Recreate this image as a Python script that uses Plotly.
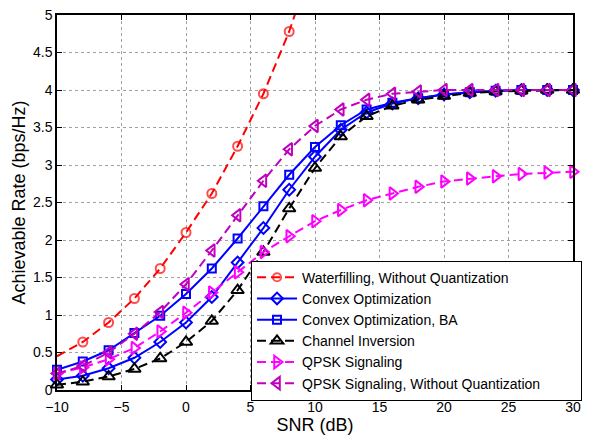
import plotly.graph_objects as go

snr = [-10, -8, -6, -4, -2, 0, 2, 4, 6, 8, 10, 12, 14, 16, 18, 20, 22, 24, 26, 28, 30]

waterfill_snr = [-10, -8, -6, -4, -2, 0, 2, 4, 6, 8, 10]
waterfill = [0.45, 0.64, 0.90, 1.22, 1.62, 2.10, 2.62, 3.25, 3.95, 4.78, 5.8]

convex = [0.14, 0.19, 0.29, 0.43, 0.64, 0.90, 1.24, 1.70, 2.16, 2.67, 3.11, 3.47, 3.70,
          3.82, 3.89, 3.94, 3.97, 3.99, 4.0, 4.0, 4.0]
convex_ba = [0.27, 0.38, 0.53, 0.76, 0.99, 1.28, 1.62, 2.02, 2.45, 2.87, 3.24, 3.53, 3.74,
             3.83, 3.89, 3.94, 3.97, 3.99, 4.0, 4.0, 4.0]
chan_inv = [0.07, 0.11, 0.18, 0.28, 0.42, 0.64, 0.92, 1.33, 1.84, 2.42, 2.96, 3.38, 3.65,
            3.79, 3.87, 3.92, 3.96, 3.98, 3.99, 4.0, 4.0]
qpsk = [0.22, 0.30, 0.41, 0.56, 0.78, 1.03, 1.30, 1.57, 1.84, 2.05, 2.25, 2.40, 2.53,
        2.62, 2.71, 2.78, 2.82, 2.85, 2.88, 2.90, 2.91]
qpsk_noq = [0.22, 0.32, 0.50, 0.75, 1.04, 1.41, 1.86, 2.33, 2.79, 3.21, 3.52, 3.74, 3.87,
            3.95, 3.98, 4.0, 4.0, 4.0, 4.0, 4.0, 4.0]

x_ticks = [-10, -5, 0, 5, 10, 15, 20, 25, 30]
y_ticks = [0, 0.5, 1, 1.5, 2, 2.5, 3, 3.5, 4, 4.5, 5]

FONT = "Liberation Sans, Arial, sans-serif"
DASH = "9px,5px"
PAD = "\u00a0" * 9  # right padding inside the legend box

fig = go.Figure()

wf_sizes = [0 if (i == 0) else 9 for i in range(len(waterfill_snr))]
fig.add_trace(go.Scatter(
    x=waterfill_snr, y=waterfill, name="Waterfilling, Without Quantization",
    mode="lines+markers", cliponaxis=True,
    line=dict(color="#ff0000", width=2, dash=DASH),
    marker=dict(symbol="circle-open", size=wf_sizes, color="#ff0000", line=dict(width=2)),
))
fig.add_trace(go.Scatter(
    x=snr, y=convex, name="Convex Optimization", mode="lines+markers", cliponaxis=False,
    line=dict(color="#0000ff", width=2),
    marker=dict(symbol="diamond-open", size=9, color="#0000ff", line=dict(width=2)),
))
fig.add_trace(go.Scatter(
    x=snr, y=convex_ba, name="Convex Optimization, BA", mode="lines+markers", cliponaxis=False,
    line=dict(color="#0000ff", width=2),
    marker=dict(symbol="square-open", size=8, color="#0000ff", line=dict(width=2)),
))
fig.add_trace(go.Scatter(
    x=snr, y=chan_inv, name="Channel Inversion", mode="lines+markers", cliponaxis=False,
    line=dict(color="#000000", width=2, dash=DASH),
    marker=dict(symbol="triangle-up-open", size=11, color="#000000", line=dict(width=2)),
))
fig.add_trace(go.Scatter(
    x=snr, y=qpsk, name="QPSK Signaling", mode="lines+markers", cliponaxis=False,
    line=dict(color="#ff00ff", width=2, dash=DASH),
    marker=dict(symbol="triangle-right-open", size=11, color="#ff00ff", line=dict(width=2)),
))
fig.add_trace(go.Scatter(
    x=snr, y=qpsk_noq, name="QPSK Signaling, Without Quantization" + PAD, mode="lines+markers",
    cliponaxis=False,
    line=dict(color="#bf00bf", width=2, dash=DASH),
    marker=dict(symbol="triangle-left-open", size=11, color="#bf00bf", line=dict(width=2)),
))

axis_common = dict(
    showline=True, linecolor="black", linewidth=1.5, mirror="ticks",
    ticks="inside", ticklen=5, tickcolor="black",
    showgrid=True, gridcolor="#a0a0a0", griddash="dot", gridwidth=1,
    zeroline=False, tickfont=dict(family=FONT, size=14, color="black"),
)

fig.update_xaxes(range=[-10, 30], tickvals=x_ticks, ticklabelstandoff=3,
                 title=dict(text="SNR (dB)", font=dict(family=FONT, size=18, color="black"), standoff=2),
                 **axis_common)
fig.update_yaxes(range=[0, 5], tickvals=y_ticks,
                 title=dict(text="Achievable Rate (bps/Hz)", font=dict(family=FONT, size=18, color="black"), standoff=3),
                 **axis_common)

fig.update_layout(
    width=589, height=436,
    margin=dict(l=57, r=7, t=9, b=41),
    paper_bgcolor="white", plot_bgcolor="white",
    font=dict(family=FONT, color="black"),
    showlegend=True,
    legend=dict(
        x=0.376, y=0.345, xanchor="left", yanchor="top",
        bgcolor="white", bordercolor="black", borderwidth=1,
        font=dict(family=FONT, size=14, color="black"),
        tracegroupgap=0, itemwidth=40,
    ),
)

fig.write_html("out.html")
